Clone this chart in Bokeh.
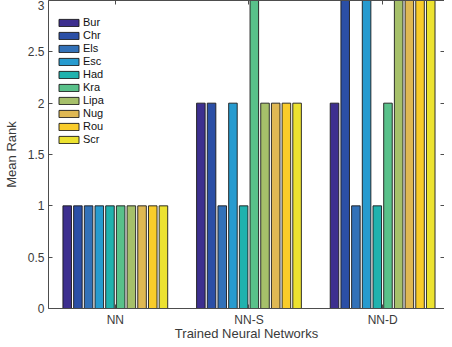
import numpy as np
from bokeh.plotting import figure
from bokeh.models import (ColumnDataSource, Range1d, FixedTicker, LinearAxis, Legend, LegendItem)
from bokeh.transform import dodge
from bokeh.embed import file_html
from bokeh.resources import INLINE

groups = ["NN", "NN-S", "NN-D"]
series = ["Bur", "Chr", "Els", "Esc", "Had", "Kra", "Lipa", "Nug", "Rou", "Scr"]
values = {
    "Bur":  [1, 2, 2],
    "Chr":  [1, 2, 3],
    "Els":  [1, 1, 1],
    "Esc":  [1, 2, 3],
    "Had":  [1, 1, 1],
    "Kra":  [1, 3, 2],
    "Lipa": [1, 2, 3],
    "Nug":  [1, 2, 3],
    "Rou":  [1, 2, 3],
    "Scr":  [1, 2, 3],
}
colors = ["#3d2f8f", "#2b4fa6", "#3271b8", "#279bcf", "#20b2ae",
          "#59c18a", "#a6c06a", "#dfb853", "#f9cc2a", "#ece230"]
y_ticks = [0, 0.5, 1, 1.5, 2, 2.5, 3]
x_label = "Trained Neural Networks"
y_label = "Mean Rank"

FONT = "Liberation Sans"
TXT = "#3a3a3a"
AX = "#4d4d4d"

pos = list(range(1, len(groups) + 1))
data = {"pos": pos}
data.update(values)
src = ColumnDataSource(data)

p = figure(width=444, height=343, output_backend="svg", toolbar_location=None,
           x_range=Range1d(0.5, 0.5 + 400 / 135), y_range=Range1d(0, 3),
           min_border_left=44, min_border_right=0, min_border_top=0, min_border_bottom=0)
p.outline_line_color = None
p.xgrid.visible = False
p.ygrid.visible = False

n = len(series)
pitch = 0.8 / n
renderers = []
for i, s in enumerate(series):
    off = (i - (n - 1) / 2) * pitch
    r = p.vbar(x=dodge("pos", off, range=p.x_range), top=s, width=pitch * 0.8,
               source=src, fill_color=colors[i], line_color="#1a1a1a", line_width=0.9)
    renderers.append(r)

for ax in (p.xaxis[0], p.yaxis[0]):
    ax.axis_line_color = AX
    ax.major_tick_line_color = AX
    ax.major_tick_in = 4
    ax.major_tick_out = 0
    ax.minor_tick_line_color = None
    ax.major_label_text_font = FONT
    ax.major_label_text_font_size = "12px"
    ax.major_label_text_color = TXT
    ax.axis_label_text_font = FONT
    ax.axis_label_text_font_size = "13px"
    ax.axis_label_text_font_style = "normal"
    ax.axis_label_text_color = TXT

p.xaxis.ticker = FixedTicker(ticks=pos)
p.xaxis.major_label_overrides = {k: g for k, g in zip(pos, groups)}
p.xaxis.axis_label = x_label
p.xaxis.major_label_standoff = 4
p.xaxis.axis_label_standoff = -4
p.yaxis.ticker = FixedTicker(ticks=y_ticks)
p.yaxis.major_label_overrides = {t: ("%g" % t) for t in y_ticks}
p.yaxis.axis_label = y_label
p.yaxis.major_label_standoff = 4
p.yaxis.axis_label_standoff = 6

top = LinearAxis(ticker=FixedTicker(ticks=pos), axis_line_color=AX, major_tick_line_color=AX,
                 major_tick_in=4, major_tick_out=0, minor_tick_line_color=None,
                 major_label_overrides={k: "" for k in pos}, major_label_standoff=0)
p.add_layout(top, "above")
right = LinearAxis(ticker=FixedTicker(ticks=y_ticks), axis_line_color=None, major_tick_line_color=AX,
                   major_tick_in=4, major_tick_out=0, minor_tick_line_color=None,
                   major_label_overrides={t: "" for t in y_ticks}, major_label_standoff=0)
p.add_layout(right, "right")

legend = Legend(items=[LegendItem(label=s, renderers=[r]) for s, r in zip(series, renderers)],
                location=(8, 163), margin=0, padding=5, spacing=1,
                glyph_width=25, glyph_height=9, label_height=10, label_standoff=2,
                label_text_font=FONT, label_text_font_size="11px", label_text_color="#111111",
                border_line_color=None, background_fill_alpha=1.0)
p.add_layout(legend, "center")

open("out.html", "w").write(file_html(p, INLINE))
